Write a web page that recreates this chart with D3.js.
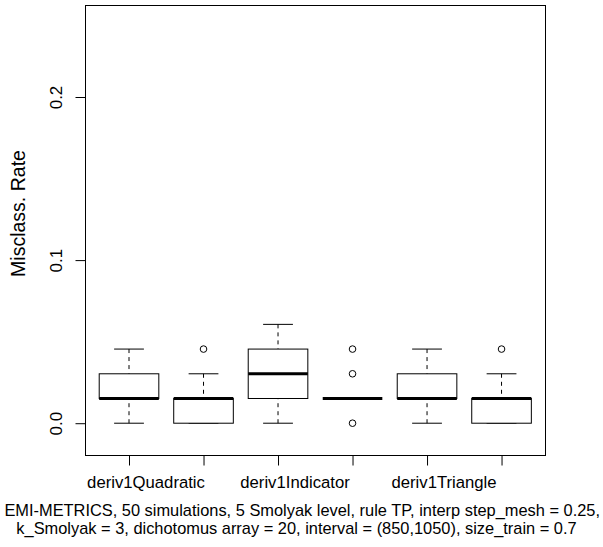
<!DOCTYPE html>
<html>
<head>
<meta charset="utf-8">
<script src="https://cdn.jsdelivr.net/npm/d3@7"></script>
<style>
  html, body { margin: 0; padding: 0; background: #fff; }
  svg { display: block; }
  text { font-family: "Liberation Sans", Arial, sans-serif; fill: #000; }
</style>
</head>
<body>
<svg id="chart" width="603" height="547"></svg>
<script>
// Group positions and the labels printed under them
const positions = [1, 2, 3, 4, 5, 6];
const tickLabels = ["deriv1Quadratic", "", "deriv1Indicator", "", "deriv1Triangle", ""];

// Five-number summaries of the misclassification rate per method
const lowerWhisker = [0, 0, 0, 0.01515, 0, 0];
const q1 = [0.01515, 0, 0.01515, 0.01515, 0.01515, 0];
const medians = [0.01515, 0.01515, 0.0303, 0.01515, 0.01515, 0.01515];
const q3 = [0.0303, 0.01515, 0.04545, 0.01515, 0.0303, 0.01515];
const upperWhisker = [0.04545, 0.0303, 0.0606, 0.01515, 0.04545, 0.0303];
const outliers = [[], [0.04545], [], [0, 0.0303, 0.04545], [], [0.04545]];

const yTicks = [0, 0.1, 0.2];
const yTickLabels = ["0.0", "0.1", "0.2"];
const yTitle = "Misclass. Rate";
const subLines = [
  "EMI-METRICS, 50 simulations, 5 Smolyak level, rule TP, interp step_mesh = 0.25,",
  "k_Smolyak = 3, dichotomus array = 20, interval = (850,1050), size_train = 0.7"
];

const plot = { left: 85.5, right: 545.5, top: 5.5, bottom: 455.5 };

const x = d3.scaleLinear().domain([0.416, 6.59]).range([plot.left, plot.right]);
const y = d3.scaleLinear().domain([-0.0198, 0.2561]).range([plot.bottom, plot.top]);

const boxWidth = 0.8;   // in group units
const stapleWidth = 0.4;

const svg = d3.select("#chart");

const boxes = positions.map((p, i) => ({
  p, lo: lowerWhisker[i], q1: q1[i], med: medians[i], q3: q3[i], hi: upperWhisker[i], out: outliers[i]
}));

const g = svg.append("g");

boxes.forEach(b => {
  // dashed whiskers
  [[b.lo, b.q1], [b.hi, b.q3]].forEach(([from, to]) => {
    if (from === to) return;
    g.append("line")
      .attr("x1", x(b.p)).attr("x2", x(b.p))
      .attr("y1", y(from)).attr("y2", y(to))
      .attr("stroke", "#000").attr("stroke-width", 1)
      .attr("stroke-dasharray", "4,4");
  });
  // staples
  [b.lo, b.hi].forEach(v => {
    g.append("line")
      .attr("x1", x(b.p - stapleWidth / 2)).attr("x2", x(b.p + stapleWidth / 2))
      .attr("y1", y(v)).attr("y2", y(v))
      .attr("stroke", "#000").attr("stroke-width", 1);
  });
  // box
  g.append("rect")
    .attr("x", x(b.p - boxWidth / 2))
    .attr("y", y(b.q3))
    .attr("width", x(b.p + boxWidth / 2) - x(b.p - boxWidth / 2))
    .attr("height", y(b.q1) - y(b.q3))
    .attr("fill", "#fff").attr("stroke", "#000").attr("stroke-width", 1);
  // median
  g.append("line")
    .attr("x1", x(b.p - boxWidth / 2)).attr("x2", x(b.p + boxWidth / 2))
    .attr("y1", y(b.med)).attr("y2", y(b.med))
    .attr("stroke", "#000").attr("stroke-width", 3);
  // outliers
  b.out.forEach(v => {
    g.append("circle")
      .attr("cx", x(b.p)).attr("cy", y(v)).attr("r", 3.3)
      .attr("fill", "none").attr("stroke", "#000").attr("stroke-width", 1);
  });
});

// frame
svg.append("rect")
  .attr("x", plot.left).attr("y", plot.top)
  .attr("width", plot.right - plot.left).attr("height", plot.bottom - plot.top)
  .attr("fill", "none").attr("stroke", "#000").attr("stroke-width", 1);

// y axis
const yAxis = d3.axisLeft(y).tickValues(yTicks).tickFormat((d, i) => yTickLabels[i])
  .tickSize(10).tickSizeOuter(0);
const ya = svg.append("g").attr("transform", `translate(${plot.left},0)`).call(yAxis);
ya.select(".domain").remove();
ya.selectAll(".tick line").attr("stroke", "#000");
ya.selectAll(".tick text")
  .attr("x", 0).attr("y", 0).attr("dy", null)
  .attr("transform", "translate(-24,0) rotate(-90)")
  .attr("text-anchor", "middle")
  .style("font-size", "17px")
  .style("font-family", '"Liberation Sans", Arial, sans-serif');

// x axis
const xAxis = d3.axisBottom(x).tickValues(positions).tickFormat((d, i) => tickLabels[i])
  .tickSize(10).tickSizeOuter(0);
const xa = svg.append("g").attr("transform", `translate(0,${plot.bottom})`).call(xAxis);
xa.select(".domain").remove();
xa.selectAll(".tick line").attr("stroke", "#000");
xa.selectAll(".tick text")
  .attr("y", 0).attr("dy", null)
  .attr("transform", "translate(16.5,32.5)")
  .style("font-size", "16.7px")
  .style("font-family", '"Liberation Sans", Arial, sans-serif');

// y title
svg.append("text")
  .attr("transform", `translate(25,${(plot.top + plot.bottom) / 2 - 17}) rotate(-90)`)
  .attr("text-anchor", "middle")
  .style("font-size", "19.5px")
  .text(yTitle);

// subtitle lines
svg.append("text")
  .attr("x", 600).attr("y", 516)
  .attr("text-anchor", "end")
  .style("font-size", "16.4px")
  .text(subLines[0]);
svg.append("text")
  .attr("x", 296.5).attr("y", 533.5)
  .attr("text-anchor", "middle")
  .style("font-size", "16.4px")
  .text(subLines[1]);
</script>
</body>
</html>
